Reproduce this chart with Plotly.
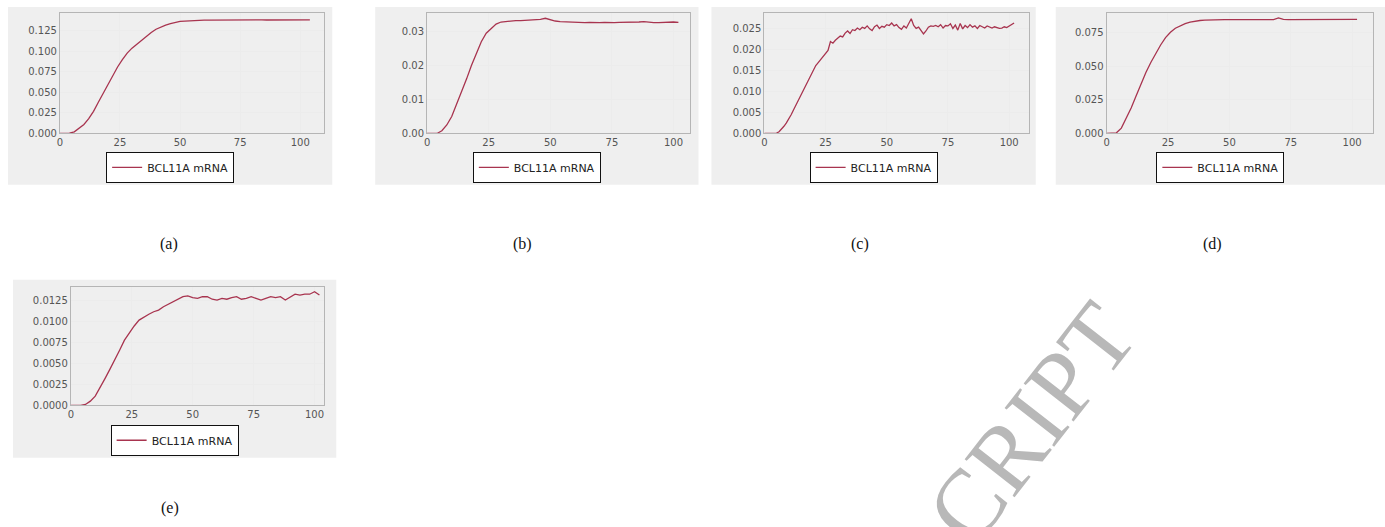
import plotly.graph_objects as go

W, H = 1385, 527

# ---------------- data ----------------
series_name = "BCL11A mRNA"
captions = ["(a)", "(b)", "(c)", "(d)", "(e)"]

a_vals = [0, 0, 0.0003, 0.002, 0.006, 0.011, 0.018, 0.027, 0.038, 0.049, 0.060, 0.071, 0.081,
          0.090, 0.098, 0.104, 0.109, 0.114, 0.119, 0.123, 0.127, 0.130, 0.132, 0.134, 0.1355,
          0.1365, 0.137, 0.1375, 0.138, 0.138, 0.1382, 0.1382, 0.1383, 0.1383, 0.1382, 0.1383,
          0.1384, 0.1383, 0.1383, 0.1384, 0.1385, 0.1387, 0.1384, 0.1383, 0.1384, 0.1383, 0.1384,
          0.1383, 0.1384, 0.1384, 0.1383, 0.1384, 0.1384]

b_vals = [0, 0, 0, 0.0008, 0.0025, 0.005, 0.0085, 0.012, 0.016, 0.020, 0.0235, 0.027, 0.0295,
          0.031, 0.0322, 0.0328, 0.033, 0.0331, 0.0332, 0.0332, 0.0333, 0.0333, 0.0334, 0.0336,
          0.0339, 0.0334, 0.0331, 0.0329, 0.0328, 0.0327, 0.0327, 0.0326, 0.0326, 0.0327, 0.0326,
          0.0326, 0.0327, 0.0326, 0.0326, 0.0327, 0.0327, 0.0326, 0.0326, 0.0328, 0.0329, 0.0327,
          0.0326, 0.0326, 0.0327, 0.0327, 0.0328, 0.0327]

c_vals = [0, 0, 0, 0, 0, 0.0001, 0.0004, 0.001, 0.0017, 0.0025, 0.0034, 0.0045, 0.0057, 0.0069,
          0.0081, 0.0092, 0.0104, 0.0117, 0.0129, 0.0141, 0.0152, 0.0161, 0.0168, 0.0175, 0.0182,
          0.0189, 0.0197, 0.0218, 0.0214, 0.0221, 0.0226, 0.0231, 0.0229, 0.0238, 0.0243, 0.0237,
          0.0246, 0.0244, 0.0250, 0.0246, 0.0252, 0.0249, 0.0255, 0.0248, 0.0244, 0.0253, 0.0257,
          0.0249, 0.0254, 0.0252, 0.0258, 0.0256, 0.0262, 0.0255, 0.0258, 0.0251, 0.0247, 0.0255,
          0.0250, 0.0262, 0.0272, 0.0256, 0.0249, 0.0252, 0.0245, 0.0236, 0.0243, 0.0252, 0.0255,
          0.0254, 0.0256, 0.0253, 0.0258, 0.0250, 0.0256, 0.0255, 0.0260, 0.0249, 0.0257, 0.0245,
          0.0261, 0.0248, 0.0256, 0.0251, 0.0258, 0.0252, 0.0255, 0.0249, 0.0256, 0.0253, 0.0250,
          0.0255, 0.0252, 0.0250, 0.0253, 0.0251, 0.0249, 0.0250, 0.0253, 0.0251, 0.0254, 0.0258,
          0.0262]

d_vals = [0, 0, 0.0005, 0.004, 0.011, 0.019, 0.028, 0.037, 0.0455, 0.053, 0.060, 0.066, 0.0715,
          0.0755, 0.0785, 0.0805, 0.082, 0.083, 0.0838, 0.0843, 0.0846, 0.0848, 0.0849, 0.085,
          0.085, 0.085, 0.0849, 0.085, 0.085, 0.0851, 0.085, 0.085, 0.0849, 0.085, 0.085, 0.0862,
          0.0852, 0.085, 0.085, 0.0849, 0.085, 0.085, 0.085, 0.0849, 0.085, 0.085, 0.085, 0.085,
          0.0849, 0.085, 0.085, 0.0851]

e_vals = [0, 0, 0, 0.0001, 0.0005, 0.0011, 0.0021, 0.0032, 0.0043, 0.0054, 0.0066, 0.0078,
          0.0087, 0.0095, 0.0102, 0.0106, 0.0109, 0.0112, 0.0114, 0.0118, 0.0121, 0.0124, 0.0127,
          0.0130, 0.0131, 0.0129, 0.0128, 0.0130, 0.0130, 0.0127, 0.0126, 0.0128, 0.0127, 0.0129,
          0.0130, 0.0127, 0.0128, 0.0130, 0.0128, 0.0126, 0.0128, 0.0130, 0.0129, 0.0130, 0.0126,
          0.0130, 0.0133, 0.0132, 0.0133, 0.0133, 0.0136, 0.0132]

a_t = list(range(0, 2 * len(a_vals), 2))
b_t = list(range(0, 2 * len(b_vals), 2))
c_t = list(range(0, len(c_vals)))
d_t = list(range(0, 2 * len(d_vals), 2))
e_t = list(range(0, 2 * len(e_vals), 2))

x_ticks = [0, 25, 50, 75, 100]
a_yticks = [0, 0.025, 0.05, 0.075, 0.1, 0.125]
b_yticks = [0, 0.01, 0.02, 0.03]
c_yticks = [0, 0.005, 0.01, 0.015, 0.02, 0.025]
d_yticks = [0, 0.025, 0.05, 0.075]
e_yticks = [0, 0.0025, 0.005, 0.0075, 0.01, 0.0125]

# ---------------- layout (pixel boxes) ----------------
panels = [
    dict(t=a_t, v=a_vals, yt=a_yticks, fmt=".3f", gray=(5, 7, 330, 187), plot=(57, 13, 322, 135),
         xr=[0, 110], yr=[0, 0.147], cap=(166, 247)),
    dict(t=b_t, v=b_vals, yt=b_yticks, fmt=".2f", gray=(373, 7, 697, 187), plot=(425, 13, 688, 135),
         xr=[0, 106.5], yr=[0, 0.0355], cap=(521, 247)),
    dict(t=c_t, v=c_vals, yt=c_yticks, fmt=".3f", gray=(710, 7, 1035, 187), plot=(763, 13, 1028, 135),
         xr=[0, 108], yr=[0, 0.0286], cap=(859, 247)),
    dict(t=d_t, v=d_vals, yt=d_yticks, fmt=".3f", gray=(1055, 7, 1385, 187), plot=(1106, 13, 1373, 135),
         xr=[0, 108.5], yr=[0, 0.090], cap=(1212, 247)),
    dict(t=e_t, v=e_vals, yt=e_yticks, fmt=".4f", gray=(10, 283, 334, 463), plot=(68, 290, 322, 410),
         xr=[0, 104], yr=[0, 0.0142], cap=(167, 514)),
]

LINE = "#a8344f"
TICKFONT = dict(family="DejaVu Sans", size=10, color="#555")

def fx(px):
    return px / W

def fy(py):
    return 1 - py / H

fig = go.Figure()
shapes = []
annotations = []
layout = {}

for i, p in enumerate(panels):
    n = "" if i == 0 else str(i + 1)
    leg = "legend" + n
    fig.add_trace(go.Scatter(
        x=p["t"], y=p["v"], mode="lines", name=series_name,
        line=dict(color=LINE, width=1.3),
        xaxis="x" + n, yaxis="y" + n, legend=leg, showlegend=True,
    ))
    x0, y0, x1, y1 = p["plot"]
    layout["xaxis" + n] = dict(
        domain=[fx(x0), fx(x1)], anchor="y" + n, range=p["xr"], tickvals=x_ticks,
        showline=True, linecolor="#b5b5b5", linewidth=1, mirror=True,
        showgrid=True, gridcolor="#ececec", zeroline=False, ticks="",
        tickfont=TICKFONT, fixedrange=True,
    )
    layout["yaxis" + n] = dict(
        domain=[fy(y1), fy(y0)], anchor="x" + n, range=p["yr"], tickvals=p["yt"],
        tickformat=p["fmt"],
        showline=True, linecolor="#b5b5b5", linewidth=1, mirror=True,
        showgrid=True, gridcolor="#ececec", zeroline=False, ticks="",
        tickfont=TICKFONT, fixedrange=True,
    )
    gx0, gy0, gx1, gy1 = p["gray"]
    shapes.append(dict(type="rect", xref="paper", yref="paper", x0=fx(gx0), x1=fx(gx1),
                       y0=fy(gy1), y1=fy(gy0), fillcolor="#efefef", line=dict(width=0),
                       layer="below"))
    layout[leg] = dict(
        x=fx((gx0 + gx1) / 2), y=fy(gy1 - 2), xanchor="center", yanchor="bottom",
        bgcolor="white", bordercolor="#111", borderwidth=1,
        font=dict(family="DejaVu Sans", size=11, color="#222"),
        itemwidth=30,
    )
    cx, cy = p["cap"]
    annotations.append(dict(text=captions[i], x=fx(cx), y=fy(cy), xref="paper", yref="paper",
                            showarrow=False, xanchor="center", yanchor="middle",
                            font=dict(family="Liberation Serif", size=16, color="#111")))

# watermark fragment (cut by the bottom edge as in the reference)
annotations.append(dict(text="CRIPT", x=fx(1030), y=fy(428), xref="paper", yref="paper",
                        showarrow=False, textangle=-52, xanchor="center", yanchor="middle",
                        font=dict(family="Liberation Serif", size=96, color="#b8b8b8")))

fig.update_layout(
    width=W, height=H, margin=dict(l=0, r=0, t=0, b=0),
    paper_bgcolor="white", plot_bgcolor="white",
    shapes=shapes, annotations=annotations, **layout,
)

fig.write_html("out.html", config={"displayModeBar": False},
               post_script="document.body.style.margin='0';document.body.style.overflow='hidden';")
